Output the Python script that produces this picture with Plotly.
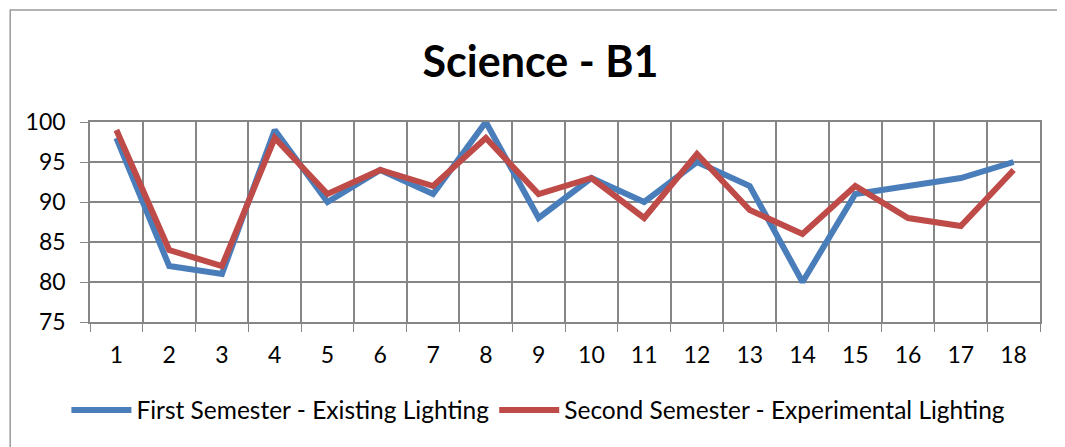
import plotly.graph_objects as go

students = [str(i) for i in range(1, 19)]
first_semester = [98, 82, 81, 99, 90, 94, 91, 100, 88, 93, 90, 95, 92, 80, 91, 92, 93, 95]
second_semester = [99, 84, 82, 98, 91, 94, 92, 98, 91, 93, 88, 96, 89, 86, 92, 88, 87, 94]
y_ticks = [75, 80, 85, 90, 95, 100]

GRID = "#868686"
FONT = "Lato, Liberation Sans, Arial, sans-serif"

fig = go.Figure()

fig.add_trace(
    go.Scatter(
        x=students,
        y=first_semester,
        mode="lines",
        line={"color": "#4A7EBB", "width": 6},
        name="First Semester - Existing Lighting",
    )
)
fig.add_trace(
    go.Scatter(
        x=students,
        y=second_semester,
        mode="lines",
        line={"color": "#BE4B48", "width": 6},
        name="Second Semester - Experimental Lighting",
    )
)

# outer chart frame (only left and top edges fall inside the window)
fig.add_shape(
    type="rect",
    xref="paper",
    yref="paper",
    x0=-0.084,
    x1=1.2,
    y0=-1.0,
    y1=1.56,
    line={"color": "#9a9a9a", "width": 1.5},
    layer="below",
)

fig.update_layout(
    width=1065,
    height=447,
    margin={"l": 82, "r": 33, "t": 114, "b": 133, "autoexpand": False},
    plot_bgcolor="white",
    paper_bgcolor="white",
    font={"family": FONT, "size": 20, "color": "black"},
    title={
        "text": "<b>Science - B1</b>",
        "x": 0.5,
        "xanchor": "center",
        "y": 1 - 54 / 447,
        "yanchor": "middle",
        "font": {"size": 43, "family": FONT},
    },
    showlegend=True,
    legend={
        "orientation": "h",
        "x": 0.472,
        "xanchor": "center",
        "y": -0.44,
        "yanchor": "middle",
        "font": {"size": 24.5},
        "itemwidth": 60,
    },
)

fig.update_xaxes(
    type="category",
    range=[-0.5, len(students) - 0.5],
    tickson="boundaries",
    ticks="outside",
    ticklen=8,
    tickcolor=GRID,
    showgrid=True,
    gridcolor=GRID,
    gridwidth=1.5,
    showline=True,
    linecolor=GRID,
    linewidth=1.5,
    mirror=True,
    ticklabelstandoff=12,
    tickfont={"size": 23},
)
fig.update_yaxes(
    range=[75, 100],
    tickvals=y_ticks,
    ticks="outside",
    ticklen=8,
    tickcolor=GRID,
    showgrid=True,
    gridcolor=GRID,
    gridwidth=1.5,
    showline=True,
    linecolor=GRID,
    linewidth=1.5,
    mirror=True,
    zeroline=False,
    ticklabelstandoff=10,
    tickfont={"size": 23},
)

fig.write_html("out.html")
